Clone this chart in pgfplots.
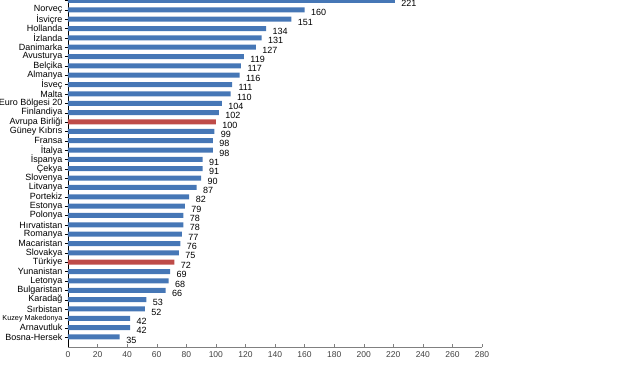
\documentclass[border=0pt]{standalone}
\usepackage{pgfplots}
\pgfplotsset{compat=1.18}
\usepackage{fontspec}
\setmainfont{Liberation Sans}
\definecolor{barblue}{HTML}{4677B6}
\definecolor{barred}{HTML}{BE4B48}
\definecolor{axgray}{HTML}{808080}
\begin{document}
\begin{tikzpicture}
\begin{axis}[
  at={(0,0)}, anchor=south west,
  scale only axis, width=414pt, height=347pt,
  xmin=0, xmax=280, ymin=-1.07, ymax=36.05,
  xtick={0,20,...,280},
  ytick={0,...,36},
  yticklabels={Bosna-Hersek,Arnavutluk,{\fontsize{7.3}{8}\selectfont Kuzey Makedonya},Sırbistan,Karadağ,Bulgaristan,Letonya,Yunanistan,Türkiye,Slovakya,Macaristan,Romanya,Hırvatistan,Polonya,Estonya,Portekiz,Litvanya,Slovenya,Çekya,İspanya,İtalya,Fransa,Güney Kıbrıs,Avrupa Birliği,Finlandiya,Euro Bölgesi 20,Malta,İsveç,Almanya,Belçika,Avusturya,Danimarka,İzlanda,Hollanda,İsviçre,Norveç,{}},
  axis x line*=bottom, axis y line*=left,
  x axis line style={axgray},
  y axis line style={black},
  xbar, bar width=5pt, bar shift=0pt,
  clip=false,
  /pgf/number format/assume math mode=true,
  nodes near coords,
  nodes near coords style={font=\fontsize{9}{9}\selectfont, anchor=west, xshift=3pt, yshift=-3pt, text=black},
  x tick label style={font=\fontsize{8.5}{8.5}\selectfont, text=black!75, yshift=-1.5pt},
  y tick label style={font=\fontsize{9}{9}\selectfont, text=black, xshift=1pt},
  major tick length=3pt,
  xtick style={axgray}, ytick style={black},
]
\addplot[draw=none, fill=barblue] coordinates {
(35,0) (42,1) (42,2) (52,3) (53,4) (66,5) (68,6) (69,7)
(75,9) (76,10) (77,11) (78,12) (78,13) (79,14) (82,15) (87,16) (90,17) (91,18) (91,19)
(98,20) (98,21) (99,22) (102,24) (104,25) (110,26) (111,27) (116,28) (117,29) (119,30)
(127,31) (131,32) (134,33) (151,34) (160,35) (221,36)
};
\addplot[draw=none, fill=barred] coordinates {(72,8) (100,23)};
\end{axis}
\pgfresetboundingbox
\path[use as bounding box] (-68pt,-33pt) rectangle (573pt,347pt);
\end{tikzpicture}
\end{document}
